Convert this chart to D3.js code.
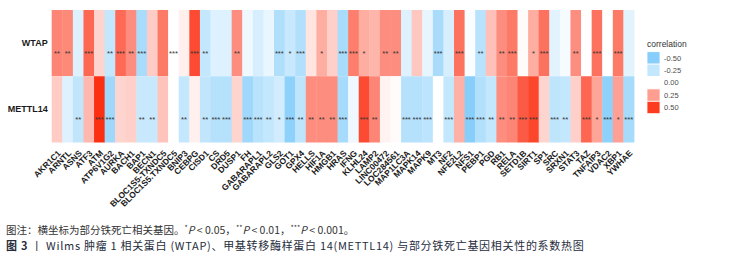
<!DOCTYPE html>
<html lang="zh">
<head>
<meta charset="utf-8">
<title>WTAP / METTL14 heatmap</title>
<script src="https://d3js.org/d3.v7.min.js"></script>
<style>
  body { margin: 0; background: #fff; }
  svg { display: block; }
</style>
</head>
<body>
<div id="chart"></div>
<script>
// Data
const genes = ["AKR1C1","ARNTL","ASNS","ATF3","ATM","ATP6V1G2","AURKA","BACH1","BAP1","BECN1",
  "BLOC1S5-TXNDC5","BLOC1S5.TXNDC5","BNIP3","CEBPG","CISD1","CS","DRD5","DUSP1","FH","GABARAPL1",
  "GABARAPL2","GLS2","GOT1","GPX4","HELLS","HIF1A","HMGB1","HRAS","IFNG","KLHL24",
  "LAMP2","LINC00472","LOC284561","MAP1LC3A","MAPK14","MAPK9","MT3","NF2","NFE2L2","NFS1",
  "PEBP1","PGD","RB1","RELA","SETD1B","SIRT1","SP1","SRC","SRXN1","STAT3",
  "TAZ","TNFAIP3","VDAC2","XBP1","YWHAE"];
const rows = ["WTAP", "METTL14"];

const wtapCor = [0.31,0.30,-0.14,0.385,0.11,-0.25,0.38,0.29,-0.36,0.13,
  0.34,0.0,0.04,0.46,-0.25,-0.14,-0.14,0.29,-0.07,-0.17,
  -0.09,-0.33,-0.23,-0.32,0.07,0.21,0.12,-0.36,0.33,0.21,
  0.19,0.29,0.29,-0.14,0.14,-0.10,-0.36,-0.17,0.36,-0.02,
  -0.29,0.16,0.29,0.34,0.01,0.21,0.36,-0.12,-0.04,0.29,
  0.0,0.36,0.0,0.34,-0.12];
const wtapSig = ["**","**","","***","","**","***","**","***","",
  "","***","","***","**","","","**","","",
  "","***","*","***","","*","","***","***","*",
  "","**","**","","","","***","","***","",
  "**","","**","***","","*","***","","","**",
  "","***","","***",""];

const mettl14Cor = [0.13,-0.14,-0.26,0.18,0.53,-0.40,0.11,0.12,-0.23,-0.23,
  0.15,0.0,-0.25,0.04,-0.26,-0.31,-0.31,0.11,-0.40,-0.29,
  -0.25,-0.19,-0.47,-0.27,0.29,0.29,0.29,-0.37,-0.07,0.46,
  0.31,0.03,0.01,-0.31,-0.31,-0.28,0.0,-0.25,0.20,-0.50,
  -0.32,-0.25,0.29,0.31,0.42,0.47,0.11,-0.27,-0.25,0.12,
  0.39,0.23,-0.47,0.24,-0.37];
const mettl14Sig = ["","","**","","***","***","","","**","**",
  "","","**","","**","***","***","","***","***",
  "**","*","***","**","**","**","**","***","","***",
  "**","","","***","***","***","","***","","***",
  "***","**","**","**","***","***","","***","**","",
  "***","*","***","*","***"];

const legendValues = [-0.5, -0.25, 0, 0.25, 0.5];
const legendLabels = ["-0.50", "-0.25", "0.00", "0.25", "0.50"];

// Build cell table
const cells = [];
genes.forEach((g, i) => {
  cells.push({ row: "WTAP", gene: g, value: wtapCor[i], sig: wtapSig[i] });
  cells.push({ row: "METTL14", gene: g, value: mettl14Cor[i], sig: mettl14Sig[i] });
});

// Dimensions
const width = 736;
const height = 263;
const margin = { top: 10, left: 51.7, right: 102, bottom: 120.5 };

const svg = d3.select("#chart")
  .append("svg")
  .attr("width", width)
  .attr("height", height);

// Scales
const x = d3.scaleBand()
  .domain(genes)
  .range([margin.left, width - margin.right]);

const y = d3.scaleBand()
  .domain(rows)
  .range([margin.top, height - margin.bottom]);

const color = d3.scaleLinear()
  .domain([-0.5, 0, 0.5])
  .range(["#87cefa", "#ffffff", "#fc3b20"]);

// Tiles
svg.append("g")
  .selectAll("rect")
  .data(cells)
  .join("rect")
  .attr("x", d => x(d.gene))
  .attr("y", d => y(d.row))
  .attr("width", x.bandwidth() + 0.4)
  .attr("height", y.bandwidth())
  .attr("fill", d => color(d.value));

// Significance stars
svg.append("g")
  .selectAll("text")
  .data(cells.filter(d => d.sig))
  .join("text")
  .attr("x", d => x(d.gene) + x.bandwidth() / 2)
  .attr("y", d => y(d.row) + y.bandwidth() / 2 + 12.5)
  .attr("text-anchor", "middle")
  .attr("font-family", "Liberation Sans, Arial, sans-serif")
  .attr("font-size", "7.5px")
  .attr("fill", "#333")
  .text(d => d.sig);

// Row labels
const yAxis = d3.axisLeft(y).tickSize(0).tickPadding(4);
svg.append("g")
  .attr("transform", `translate(${margin.left},0)`)
  .call(yAxis)
  .call(g => g.select(".domain").remove())
  .selectAll("text")
  .attr("font-family", "Liberation Sans, Arial, sans-serif")
  .attr("font-size", "9px")
  .attr("font-weight", "bold")
  .attr("fill", "#1a1a1a");

// Column labels, rotated
svg.append("g")
  .selectAll("text")
  .data(genes)
  .join("text")
  .attr("transform", d => `translate(${x(d) + x.bandwidth() / 2},${height - margin.bottom + 7}) rotate(-45)`)
  .attr("text-anchor", "end")
  .attr("dy", "0.72em")
  .attr("font-family", "Liberation Sans, Arial, sans-serif")
  .attr("font-size", "8.5px")
  .attr("font-weight", "bold")
  .attr("fill", "#1a1a1a")
  .text(d => d);

// Legend
const legend = svg.append("g").attr("transform", "translate(647,0)");
legend.append("text")
  .attr("x", 0)
  .attr("y", 47)
  .attr("font-family", "Liberation Sans, Arial, sans-serif")
  .attr("font-size", "8.5px")
  .attr("fill", "#333")
  .text("correlation");

const keyH = 12.4;
const keyY = d3.scaleBand().domain(legendValues).range([51.7, 51.7 + keyH * legendValues.length]);

legend.selectAll("rect.key")
  .data(legendValues)
  .join("rect")
  .attr("class", "key")
  .attr("x", 0)
  .attr("y", d => keyY(d))
  .attr("width", 13)
  .attr("height", keyH)
  .attr("fill", d => color(d))
  .attr("stroke", "#fff")
  .attr("stroke-width", 0.8);

legend.selectAll("text.lab")
  .data(legendValues)
  .join("text")
  .attr("class", "lab")
  .attr("x", 17)
  .attr("y", d => keyY(d) + keyH / 2)
  .attr("dy", "0.35em")
  .attr("font-family", "Liberation Sans, Arial, sans-serif")
  .attr("font-size", "7.5px")
  .attr("fill", "#4d4d4d")
  .text((d, i) => legendLabels[i]);

// Caption
const cap = svg.append("g")
  .attr("font-family", "'Noto Sans CJK SC', sans-serif");

const line1 = cap.append("text")
  .attr("x", 6)
  .attr("y", 234)
  .attr("font-size", "10.5px")
  .attr("fill", "#333");
line1.append("tspan").text("图注：横坐标为部分铁死亡相关基因。");
const pParts = [["*", " < 0.05，"], ["**", " < 0.01，"], ["***", " < 0.001。"]];
pParts.forEach(([st, rest]) => {
  line1.append("tspan").attr("font-size", "7px").attr("dy", -4).text(st);
  line1.append("tspan").attr("font-style", "italic").attr("dy", 4).text("P");
  line1.append("tspan").text(rest);
});

const line2 = cap.append("text")
  .attr("x", 6)
  .attr("y", 250)
  .attr("font-size", "11px")
  .attr("letter-spacing", "0.7px")
  .attr("fill", "#1f2d3d");
line2.append("tspan").attr("font-weight", "bold").text("图 3");
line2.append("tspan").text(" 丨 Wilms 肿瘤 1 相关蛋白 (WTAP)、甲基转移酶样蛋白 14(METTL14) 与部分铁死亡基因相关性的系数热图");
</script>
</body>
</html>
